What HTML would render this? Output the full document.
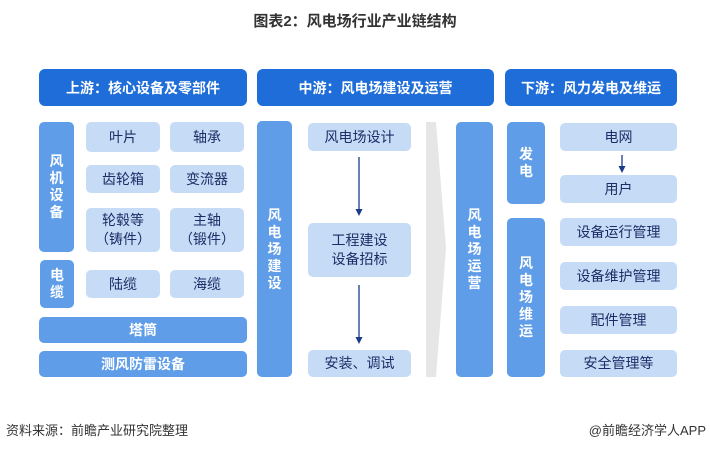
<!DOCTYPE html>
<html><head><meta charset="utf-8"><style>
body{margin:0;width:710px;height:449px;background:#fff;position:relative;overflow:hidden;font-family:"Liberation Sans","Noto Sans CJK SC",sans-serif}
.a{position:absolute;box-sizing:border-box;display:flex;align-items:center;justify-content:center;text-align:center}
.h{background:#1e6dd8;color:#fff;font-weight:bold;font-size:14px;border-radius:6px}
.v{background:#5f9de8;color:#fff;font-weight:bold;font-size:14px;border-radius:5px;line-height:17px}
.l{background:#c6dbf6;color:#1c2d66;font-size:14px;border-radius:5px;line-height:19px}
.vt{writing-mode:vertical-rl;text-orientation:upright;letter-spacing:0}
</style></head><body>
<div class="a" style="left:0;top:8px;width:710px;height:24px;font-size:15px;font-weight:bold;color:#333">图表2：风电场行业产业链结构</div>

<div class="a h" style="left:39px;top:69px;width:208px;height:37px">上游：核心设备及零部件</div>
<div class="a h" style="left:257px;top:69px;width:237px;height:37px">中游：风电场建设及运营</div>
<div class="a h" style="left:505px;top:69px;width:172px;height:37px">下游：风力发电及维运</div>

<div class="a v" style="left:39px;top:122px;width:35px;height:130px">风<br>机<br>设<br>备</div>
<div class="a v" style="left:40px;top:260px;width:34px;height:48px">电<br>缆</div>
<div class="a l" style="left:86px;top:122px;width:74px;height:30px">叶片</div>
<div class="a l" style="left:170px;top:122px;width:74px;height:30px">轴承</div>
<div class="a l" style="left:86px;top:165px;width:74px;height:28px">齿轮箱</div>
<div class="a l" style="left:170px;top:165px;width:74px;height:28px">变流器</div>
<div class="a l" style="left:86px;top:208px;width:74px;height:44px">轮毂等<br>（铸件）</div>
<div class="a l" style="left:170px;top:208px;width:74px;height:44px">主轴<br>（锻件）</div>
<div class="a l" style="left:86px;top:270px;width:74px;height:28px">陆缆</div>
<div class="a l" style="left:170px;top:270px;width:74px;height:28px">海缆</div>
<div class="a v" style="left:39px;top:317px;width:208px;height:26px">塔筒</div>
<div class="a v" style="left:39px;top:351px;width:208px;height:26px">测风防雷设备</div>

<div class="a v" style="left:257px;top:121px;width:35px;height:256px">风<br>电<br>场<br>建<br>设</div>
<div class="a l" style="left:308px;top:123px;width:103px;height:28px">风电场设计</div>
<div class="a l" style="left:308px;top:223px;width:103px;height:54px">工程建设<br>设备招标</div>
<div class="a l" style="left:308px;top:350px;width:103px;height:27px">安装、调试</div>
<div class="a v" style="left:456px;top:122px;width:37px;height:255px">风<br>电<br>场<br>运<br>营</div>

<div class="a v" style="left:507px;top:122px;width:38px;height:82px">发<br>电</div>
<div class="a v" style="left:507px;top:218px;width:38px;height:159px">风<br>电<br>场<br>维<br>运</div>
<div class="a l" style="left:560px;top:123px;width:117px;height:28px">电网</div>
<div class="a l" style="left:560px;top:175px;width:117px;height:28px">用户</div>
<div class="a l" style="left:560px;top:218px;width:117px;height:28px">设备运行管理</div>
<div class="a l" style="left:560px;top:262px;width:117px;height:28px">设备维护管理</div>
<div class="a l" style="left:560px;top:306px;width:117px;height:28px">配件管理</div>
<div class="a l" style="left:560px;top:350px;width:117px;height:27px">安全管理等</div>

<svg style="position:absolute;left:0;top:0" width="710" height="449">
<polygon points="426,122 436,122 446,248 436,377 426,377" fill="#e6e6e6"/>
<g stroke="#1a3a8a" stroke-width="1.3" fill="#1a3a8a">
<line x1="359" y1="157" x2="359" y2="210"/><polygon points="355.5,209 362.5,209 359,216" stroke="none"/>
<line x1="359" y1="285" x2="359" y2="338"/><polygon points="355.5,337 362.5,337 359,344" stroke="none"/>
<line x1="622" y1="155" x2="622" y2="167"/><polygon points="618.5,166 625.5,166 622,173" stroke="none"/>
</g></svg>

<div style="position:absolute;left:6px;top:420px;font-size:13px;color:#333">资料来源：前瞻产业研究院整理</div>
<div style="position:absolute;right:4px;top:420px;font-size:13px;color:#333">@前瞻经济学人APP</div>
</body></html>
